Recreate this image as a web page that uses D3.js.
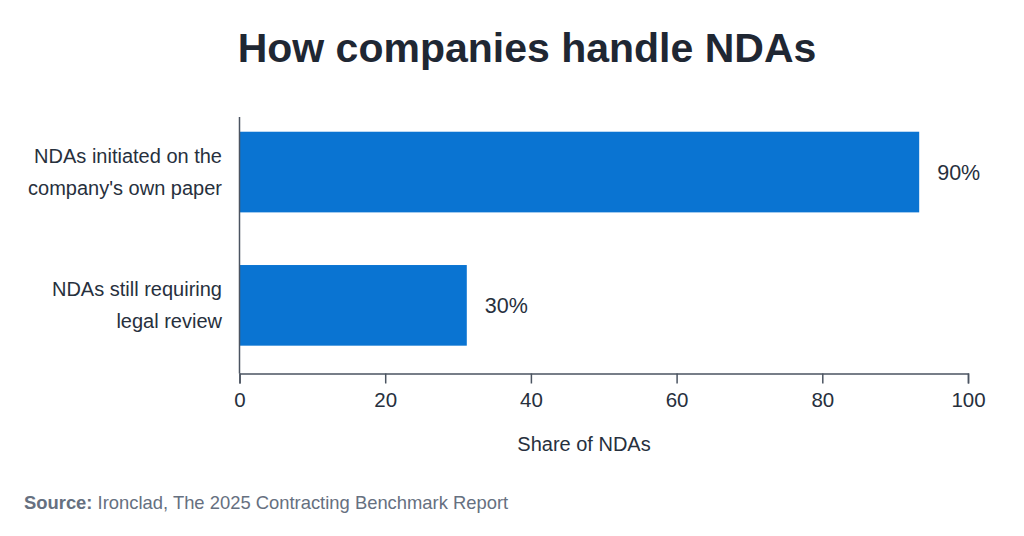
<!DOCTYPE html>
<html>
<head>
<meta charset="utf-8">
<script src="https://d3js.org/d3.v7.min.js"></script>
<style>
  body { margin: 0; background: #fff; }
  svg { display: block; font-family: "Liberation Sans", Arial, sans-serif; }
</style>
</head>
<body>
<div id="chart"></div>
<script>
    // data (bars are drawn a bit longer than their labels)
    var categories = [
        ["NDAs initiated on the", "company's own paper"],
        ["NDAs still requiring", "legal review"]
    ];
    var values = [93.3, 31.2];
    var valueLabels = ["90%", "30%"];
    var xTicks = [0, 20, 40, 60, 80, 100];

    var width = 1024, height = 536;
    var ink = "#27303d", axisColor = "#4b5461", barColor = "#0a74d2";

    var svg = d3.select("#chart").append("svg")
        .attr("width", width)
        .attr("height", height);

    svg.append("rect").attr("width", width).attr("height", height).attr("fill", "#fff");

    // title
    svg.append("text")
        .attr("x", 527).attr("y", 62)
        .attr("text-anchor", "middle")
        .attr("font-size", 41).attr("font-weight", "bold")
        .attr("fill", "#1f2733")
        .text("How companies handle NDAs");

    var x = d3.scaleLinear().domain([0, 100]).range([239.5, 968]);
    var y = d3.scaleBand()
        .domain(d3.range(categories.length))
        .range([118, 359.4])
        .paddingInner(0.395)
        .paddingOuter(0.103);

    // bars
    svg.selectAll("rect.bar")
        .data(values)
        .enter().append("rect")
        .attr("class", "bar")
        .attr("x", x(0))
        .attr("y", function(d, i) { return y(i); })
        .attr("width", function(d) { return x(d) - x(0); })
        .attr("height", y.bandwidth())
        .attr("fill", barColor);

    // value labels
    svg.selectAll("text.val")
        .data(values)
        .enter().append("text")
        .attr("class", "val")
        .attr("x", function(d) { return x(d) + 18; })
        .attr("y", function(d, i) { return y(i) + y.bandwidth() / 2; })
        .attr("dy", "0.35em")
        .attr("font-size", 21.5)
        .attr("fill", ink)
        .text(function(d, i) { return valueLabels[i]; });

    // category labels, two lines each
    var cat = svg.selectAll("text.cat")
        .data(categories)
        .enter().append("text")
        .attr("class", "cat")
        .attr("text-anchor", "end")
        .attr("font-size", 20)
        .attr("fill", ink)
        .attr("y", function(d, i) { return y(i) + y.bandwidth() / 2; });
    cat.selectAll("tspan")
        .data(function(d) { return d; })
        .enter().append("tspan")
        .attr("x", 222)
        .attr("dy", function(d, j) { return j === 0 ? "-0.45em" : "1.6em"; })
        .text(function(d) { return d; });

    // y axis line
    svg.append("line")
        .attr("x1", x(0)).attr("x2", x(0))
        .attr("y1", 117).attr("y2", 373.5)
        .attr("stroke", axisColor).attr("stroke-width", 1.5);

    // x axis
    var xAxis = svg.append("g")
        .attr("transform", "translate(0,373.5)")
        .call(d3.axisBottom(x).tickValues(xTicks).tickSize(10).tickPadding(9).tickSizeOuter(10));
    xAxis.select(".domain").attr("stroke", axisColor).attr("stroke-width", 1.5);
    xAxis.selectAll(".tick line").attr("stroke", axisColor).attr("stroke-width", 1.5);
    xAxis.selectAll(".tick text")
        .attr("font-size", 20.5)
        .attr("font-family", "Liberation Sans, Arial, sans-serif")
        .attr("fill", ink);

    svg.append("text")
        .attr("x", 584).attr("y", 451)
        .attr("text-anchor", "middle")
        .attr("font-size", 20)
        .attr("fill", ink)
        .text("Share of NDAs");

    // source note
    var src = svg.append("text")
        .attr("x", 24).attr("y", 509)
        .attr("font-size", 18.4)
        .attr("fill", "#667080");
    src.append("tspan").attr("font-weight", "bold").text("Source:");
    src.append("tspan").text(" Ironclad, The 2025 Contracting Benchmark Report");
</script>
</body>
</html>
